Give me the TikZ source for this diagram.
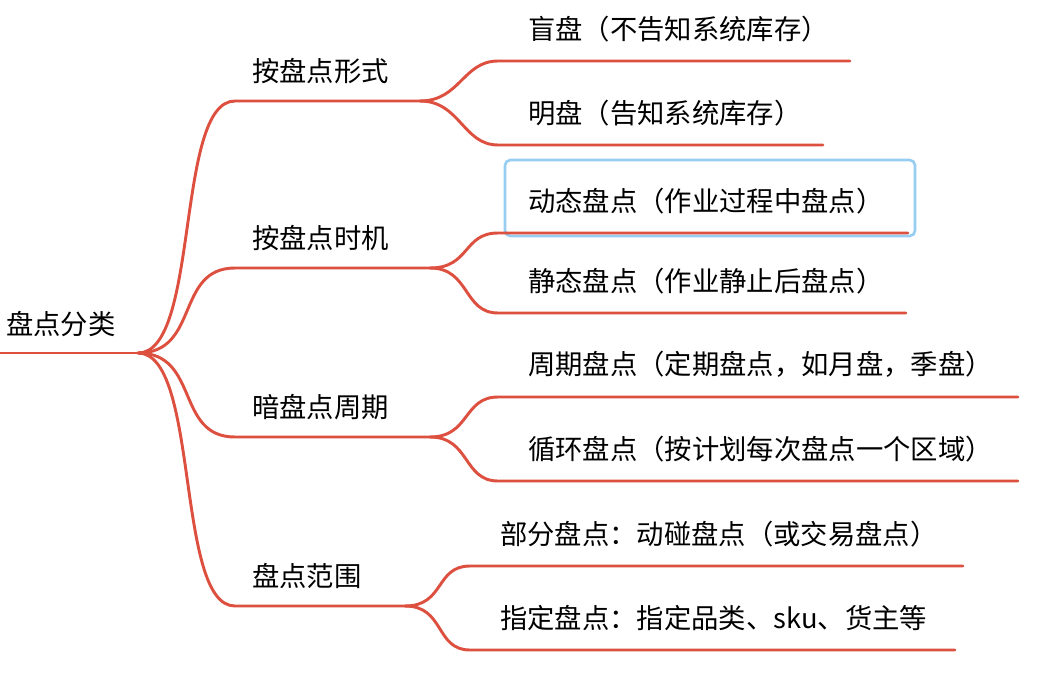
\documentclass[tikz,border=0pt]{standalone}
\usepackage{fontspec}
\usetikzlibrary{calc}
\newfontfamily\cjk{Noto Sans CJK SC}
\definecolor{branch}{RGB}{221,80,64}
\definecolor{selblue}{RGB}{150,205,240}
\tikzset{
  edge/.style={draw=branch, line width=2.2pt, line cap=round},
  label/.style={anchor=south west, inner sep=0pt, font=\cjk\fontsize{20.5}{20.5}\selectfont}
}
\begin{document}
\begin{tikzpicture}[x=0.75pt, y=-0.75pt, line join=round]
  \useasboundingbox (0,0) rectangle (1038,686);

  % selection frame
  \draw[selblue, line width=2pt, rounded corners=4pt] (505,160) rectangle (915,236);

  % root
  \coordinate (rootS) at (0,353);
  \coordinate (rootE) at (138,353);
  \node[label] (root) at (6,337) {盘点分类};
  \draw[edge] (rootS) -- (rootE);

  % second level
  \foreach \n/\y/\e/\t in {a/101/420/按盘点形式, b/268/430/按盘点时机, c/437/430/暗盘点周期, d/606/405/盘点范围}{
    \coordinate (\n S) at (235,\y);
    \coordinate (\n E) at (\e,\y);
    \node[label] (\n) at (252,\y-17) {\t};
    \draw[edge] (rootE) .. controls (200,353) and (175,\y) .. (\n S) -- (\n E);
  }

  % leaves
  \foreach \p/\n/\y/\x/\e/\t in {
      a/a1/61/528/850/盲盘（不告知系统库存）,
      a/a2/145/528/823/明盘（告知系统库存）,
      b/b1/233/528/908/动态盘点（作业过程中盘点）,
      b/b2/313/528/906/静态盘点（作业静止后盘点）,
      c/c1/397/528/1018/周期盘点（定期盘点，如月盘，季盘）,
      c/c2/481/528/1018/循环盘点（按计划每次盘点一个区域）,
      d/d1/566/500/963/部分盘点：动碰盘点（或交易盘点）,
      d/d2/650/500/955/指定盘点：指定品类、sku、货主等}{
    \coordinate (\n S) at (\x-30,\y);
    \coordinate (\n E) at (\e,\y);
    \node[label] (\n) at (\x,\y-19) {\t};
    \draw[edge] (\p E) .. controls ($(\p E)+(40,0)$) and ($(\n S)+(-35,0)$) .. (\n S) -- (\n E);
  }
\end{tikzpicture}
\end{document}
